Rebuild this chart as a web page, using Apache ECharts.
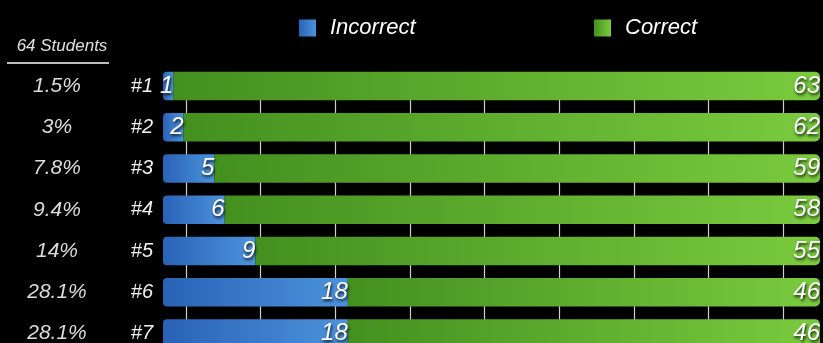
<!DOCTYPE html>
<html><head><meta charset="utf-8">
<script src="https://cdn.jsdelivr.net/npm/echarts@6/dist/echarts.min.js"></script>
<style>html,body{margin:0;padding:0;background:#000;}#c{width:823px;height:343px;}</style>
</head><body><div id="c"></div>
<script>
const questions = ['#1','#2','#3','#4','#5','#6','#7'];
const percentLabels = ['1.5%','3%','7.8%','9.4%','14%','28.1%','28.1%'];
const incorrect = [1,2,5,6,9,18,18];
const correct = [63,62,59,58,55,46,46];
const totalStudents = 64;
const headerText = '64 Students';

const FONT = '"Liberation Sans", Arial, sans-serif';
const chart = echarts.init(document.getElementById('c'));
const lbl = {
  show: true, position: 'insideRight', distance: 0, formatter: '{c}',
  color: '#fff', fontSize: 24, fontStyle: 'italic', fontFamily: FONT,
  textShadowColor: 'rgba(0,0,0,0.85)', textShadowBlur: 3, textShadowOffsetX: 1, textShadowOffsetY: 2
};
const blueGrad = new echarts.graphic.LinearGradient(0,0,1,0,[{offset:0,color:'#2a62b6'},{offset:1,color:'#4b93dc'}]);
const greenGrad = new echarts.graphic.LinearGradient(0,0,1,0,[{offset:0,color:'#43901f'},{offset:1,color:'#7acb3e'}]);
chart.setOption({
  backgroundColor: '#000',
  animation: false,
  title: {text: headerText, left: 57, textAlign: 'center', top: 33,
    textStyle: {color: '#e0e0e0', fontSize: 17, fontStyle: 'italic', fontWeight: 'normal', fontFamily: FONT}},
  graphic: [{type: 'line', shape: {x1: 7, y1: 63, x2: 109, y2: 63}, style: {stroke: '#bdbdbd', lineWidth: 2}}],
  legend: [
    {data: ['Incorrect'], left: 294, top: 12, itemWidth: 17, itemHeight: 17, icon: 'rect',
     textStyle: {color: '#fff', fontSize: 22, fontStyle: 'italic', fontFamily: FONT, padding: [0,0,0,9]}},
    {data: ['Correct'], left: 589, top: 12, itemWidth: 17, itemHeight: 17, icon: 'rect',
     textStyle: {color: '#fff', fontSize: 22, fontStyle: 'italic', fontFamily: FONT, padding: [0,0,0,9]}}
  ],
  grid: [
    {left: 163, top: 65.4, width: 657, height: 288.75, containLabel: false, outerBoundsMode: 'none'},
    {left: 186, top: 72, width: 597, height: 282, containLabel: false, outerBoundsMode: 'none'}
  ],
  xAxis: [
    {gridIndex: 0, type: 'value', min: 0, max: totalStudents, show: false},
    {gridIndex: 1, type: 'value', min: 0, max: 8, interval: 1,
     axisLine: {show: false}, axisTick: {show: false}, axisLabel: {show: false},
     splitLine: {show: true, lineStyle: {color: '#cfcfcf', width: 1.2}}}
  ],
  yAxis: [
    {gridIndex: 0, type: 'category', data: questions, inverse: true,
     axisLine: {show: false}, axisTick: {show: false},
     axisLabel: {color: '#f0f0f0', fontSize: 20, fontStyle: 'italic', fontFamily: FONT, margin: 10}},
    {gridIndex: 0, type: 'category', data: percentLabels, inverse: true, position: 'left',
     axisLine: {show: false}, axisTick: {show: false},
     axisLabel: {color: '#dcdcdc', fontSize: 21, fontStyle: 'italic', fontFamily: FONT, margin: 106, align: 'center'}},
    {gridIndex: 1, type: 'value', show: false, min: 0, max: 1}
  ],
  series: [
    {name: 'Incorrect', type: 'bar', stack: 's', xAxisIndex: 0, yAxisIndex: 0, barWidth: 28.5,
     data: incorrect, itemStyle: {color: blueGrad, borderRadius: [4,0,0,4]}, label: lbl},
    {name: 'Correct', type: 'bar', stack: 's', xAxisIndex: 0, yAxisIndex: 0, barWidth: 28.5,
     data: correct, itemStyle: {color: greenGrad, borderRadius: [0,5,5,0]}, label: lbl}
  ]
});
</script></body></html>
